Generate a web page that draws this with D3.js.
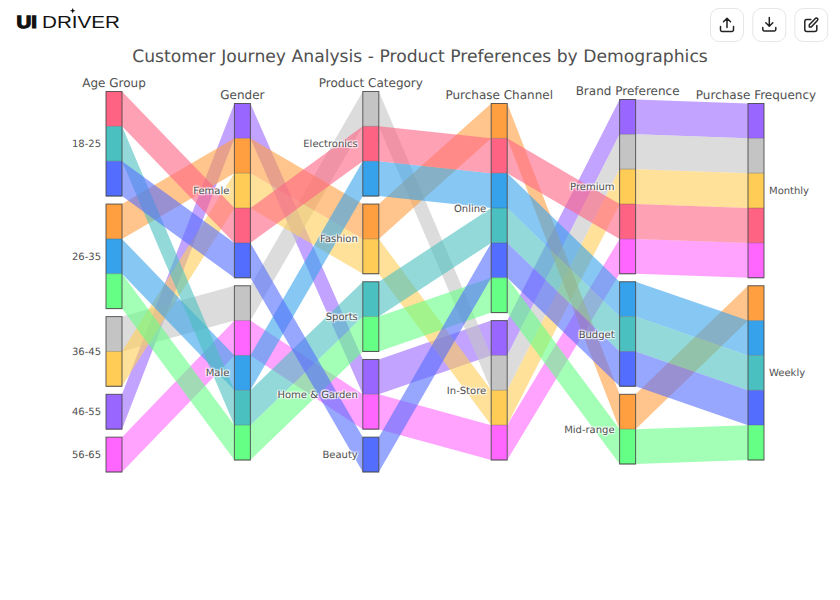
<!DOCTYPE html>
<html>
<head>
<meta charset="utf-8">
<script src="https://cdn.jsdelivr.net/npm/d3@7"></script>
<style>
html,body{margin:0;padding:0;background:#fff;width:840px;height:600px;overflow:hidden}
svg{display:block}
text{font-family:"DejaVu Sans",Verdana,sans-serif;fill:#505050;text-rendering:geometricPrecision}
.cat{font-size:10px;text-shadow:1px 1px 1px #fff,-1px -1px 1px #fff,1px -1px 1px #fff,-1px 1px 1px #fff}
.cat.plain{text-shadow:none}
.dim{font-size:12px}
.title{font-size:17.2px}
</style>
</head>
<body>
<svg id="chart" width="840" height="600"></svg>
<script>
const chartTitle = "Customer Journey Analysis - Product Preferences by Demographics";
const dimensionNames = ["Age Group","Gender","Product Category","Purchase Channel","Brand Preference","Purchase Frequency"];

const ageCategories = ["18-25","26-35","36-45","46-55","56-65"];
const genderCategories = ["Female","Male"];
const productCategories = ["Electronics","Fashion","Sports","Home & Garden","Beauty"];
const channelCategories = ["Online","In-Store"];
const brandCategories = ["Premium","Budget","Mid-range"];
const frequencyCategories = ["Monthly","Weekly"];

const journeyColors = ["#ff6384","#4bc0c0","#536dfe","#ff9f40","#36a2eb","#66ff85","#c4c4c4","#ffcd56","#9966ff","#ff66ff"];
const journeyValues = [1,1,1,1,1,1,1,1,1,1];
const journeyAge = ["18-25","18-25","18-25","26-35","26-35","26-35","36-45","36-45","46-55","56-65"];
const journeyGender = ["Female","Male","Female","Female","Male","Male","Male","Female","Female","Male"];
const journeyProduct = ["Electronics","Sports","Beauty","Fashion","Electronics","Sports","Electronics","Fashion","Home & Garden","Home & Garden"];
const journeyChannel = ["Online","Online","Online","Online","Online","Online","In-Store","In-Store","In-Store","In-Store"];
const journeyBrand = ["Premium","Budget","Budget","Mid-range","Budget","Mid-range","Premium","Premium","Premium","Premium"];
const journeyFrequency = ["Monthly","Weekly","Weekly","Weekly","Weekly","Weekly","Monthly","Monthly","Monthly","Monthly"];

// stacking order of the journeys inside each column (journey index)
const ageOrder = [0,1,2,3,4,5,6,7,8,9];
const genderOrder = [8,3,7,0,2,6,9,4,1,5];
const productOrder = [6,0,4,3,7,1,5,8,9,2];
const channelOrder = [3,0,4,1,2,5,8,6,7,9];
const brandOrder = [8,6,7,0,9,4,1,2,3,5];
const frequencyOrder = [8,6,7,0,9,3,4,1,2,5];
// painting order of the ribbons, first is underneath
const paintOrder = [9,8,6,7,5,3,4,1,0,2];

const columns = [
  {cats:ageCategories, rec:journeyAge, order:ageOrder},
  {cats:genderCategories, rec:journeyGender, order:genderOrder},
  {cats:productCategories, rec:journeyProduct, order:productOrder},
  {cats:channelCategories, rec:journeyChannel, order:channelOrder},
  {cats:brandCategories, rec:journeyBrand, order:brandOrder},
  {cats:frequencyCategories, rec:journeyFrequency, order:frequencyOrder}
];

const svg = d3.select("#chart");
const barW = 16, gap = 8, midY = 281.75;
const x = d3.scalePoint().domain(dimensionNames).range([106,748]);
const h = d3.scaleLinear().domain([0,d3.sum(journeyValues)]).range([0,348.5]);

// layout
columns.forEach((c,i)=>{
  const total = h(d3.sum(journeyValues)) + gap*(c.cats.length-1);
  let y = midY - total/2;
  c.top = y; c.x = x(dimensionNames[i]); c.name = dimensionNames[i];
  c.bands = {}; c.catBoxes = [];
  c.cats.forEach(cat=>{
    const y0 = y;
    c.order.filter(j=>c.rec[j]===cat).forEach(j=>{
      const bh = h(journeyValues[j]);
      c.bands[j] = {y0:y, y1:y+bh};
      y += bh;
    });
    c.catBoxes.push({cat, y0, y1:y});
    y += gap;
  });
});

// ribbons
const ribbons = svg.append("g");
paintOrder.forEach(j=>{
  const p = d3.path();
  for(let i=0;i<columns.length-1;i++){
    const a = columns[i], b = columns[i+1];
    const xa = a.x+barW, xb = b.x;
    p.moveTo(xa,a.bands[j].y0);
    p.lineTo(xb,b.bands[j].y0);
    p.lineTo(xb,b.bands[j].y1);
    p.lineTo(xa,a.bands[j].y1);
    p.closePath();
  }
  ribbons.append("path").attr("d",p.toString()).attr("fill",journeyColors[j]).attr("fill-opacity",0.6);
});

// bars
columns.forEach(c=>{
  const g = svg.append("g");
  c.order.forEach(j=>{
    g.append("rect").attr("x",c.x).attr("y",c.bands[j].y0).attr("width",barW)
      .attr("height",c.bands[j].y1-c.bands[j].y0).attr("fill",journeyColors[j]);
  });
  c.order.forEach(j=>{
    g.append("line").attr("x1",c.x).attr("x2",c.x+barW).attr("y1",c.bands[j].y1).attr("y2",c.bands[j].y1)
      .attr("stroke","#444").attr("stroke-opacity",0.45).attr("stroke-width",0.7);
  });
  c.catBoxes.forEach(b=>{
    g.append("rect").attr("x",c.x).attr("y",b.y0).attr("width",barW).attr("height",b.y1-b.y0)
      .attr("fill","none").attr("stroke","#444").attr("stroke-opacity",0.85).attr("stroke-width",1);
  });
});

// labels
columns.forEach((c,i)=>{
  svg.append("text").attr("class","dim").attr("x",c.x+barW/2).attr("y",c.top-5)
    .attr("text-anchor","middle").text(c.name);
  c.catBoxes.forEach(b=>{
    const last = i===columns.length-1;
    svg.append("text").attr("class",(i===0||last)?"cat plain":"cat")
      .attr("x",last?c.x+barW+5:c.x-5).attr("y",(b.y0+b.y1)/2+3.5)
      .attr("text-anchor",last?"start":"end").text(b.cat);
  });
});

// title
svg.append("text").attr("class","title").attr("x",420).attr("y",62).attr("text-anchor","middle").text(chartTitle);

// logo
const logo = svg.append("g");
logo.append("text").attr("x",16.5).attr("y",27.5).attr("textLength",20.5).attr("lengthAdjust","spacingAndGlyphs")
  .style("font-family","'Liberation Sans',sans-serif").style("font-weight",700).style("font-size","17.5px").style("fill","#111").style("stroke","#111").style("stroke-width",1.2).text("UI");
logo.append("text").attr("x",42).attr("y",27.5).attr("textLength",78).attr("lengthAdjust","spacingAndGlyphs")
  .style("font-family","'Liberation Sans',sans-serif").style("font-size","17.5px").style("fill","#111").text("DRIVER");
logo.append("path").attr("d","M72.7 8l.8 1.9 1.9.8-1.9.8-.8 1.9-.8-1.9-1.9-.8 1.9-.8z").attr("fill","#111");

// toolbar
const buttons = [710,752.3,794.3];
buttons.forEach(bx=>{
  svg.append("rect").attr("x",bx+.5).attr("y",8.5).attr("width",33).attr("height",33).attr("rx",8.5)
    .attr("fill","#fff").attr("stroke","#e6e6e6");
});
const icon = (bx,d)=>svg.append("path").attr("transform",`translate(${bx+9.5},${17.5})`).attr("d",d)
  .attr("fill","none").attr("stroke","#222").attr("stroke-width",1.5).attr("stroke-linecap","round").attr("stroke-linejoin","round");
icon(710,"M7.5 10V1M4 4.2L7.5 .8L11 4.2M1 9v3.5a1.5 1.5 0 0 0 1.5 1.5h10a1.5 1.5 0 0 0 1.5-1.5V9");
icon(752.3,"M7.5 0V8.5M4 5.2L7.5 8.8L11 5.2M1 10v2a1.5 1.5 0 0 0 1.5 1.5h10a1.5 1.5 0 0 0 1.5-1.5V10");
icon(794.3,"M7 2H3a2 2 0 0 0-2 2v8a2 2 0 0 0 2 2h8a2 2 0 0 0 2-2V8M5.5 9.5V7.3L11.6.9a1.4 1.4 0 0 1 2 2L7.5 9.5z");
</script>
</body>
</html>
